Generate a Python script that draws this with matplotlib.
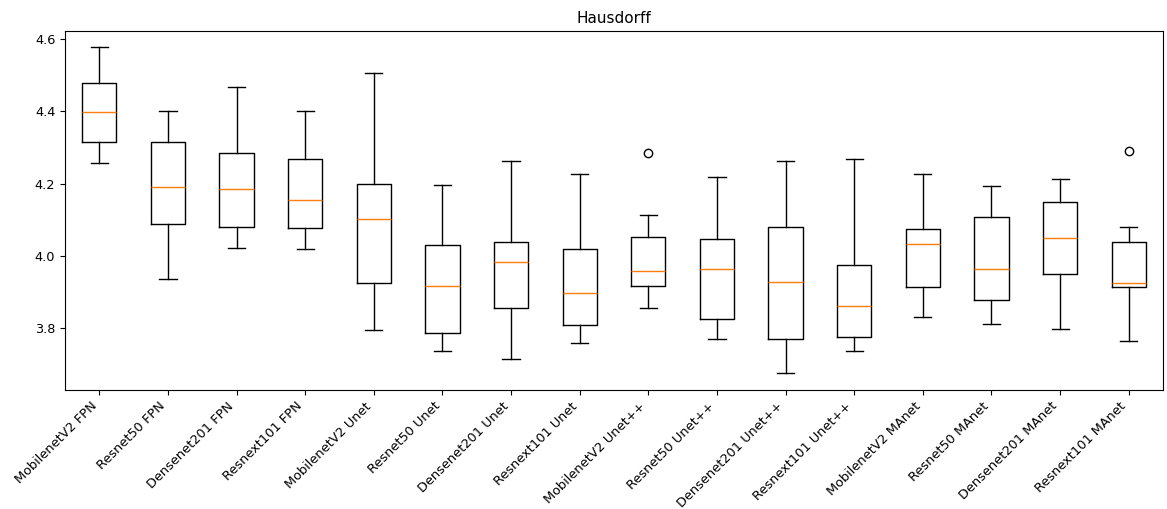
import matplotlib
matplotlib.use("Agg")
import matplotlib.pyplot as plt

models = ["MobilenetV2 FPN", "Resnet50 FPN", "Densenet201 FPN", "Resnext101 FPN",
          "MobilenetV2 Unet", "Resnet50 Unet", "Densenet201 Unet", "Resnext101 Unet",
          "MobilenetV2 Unet++", "Resnet50 Unet++", "Densenet201 Unet++", "Resnext101 Unet++",
          "MobilenetV2 MAnet", "Resnet50 MAnet", "Densenet201 MAnet", "Resnext101 MAnet"]

# five-number summaries of the Hausdorff distance per model
whislo = [4.256, 3.936, 4.022, 4.019, 3.793, 3.737, 3.715, 3.757,
          3.855, 3.770, 3.676, 3.737, 3.830, 3.811, 3.796, 3.763]
q1 = [4.315, 4.089, 4.081, 4.077, 3.924, 3.785, 3.855, 3.807,
      3.916, 3.826, 3.770, 3.775, 3.914, 3.877, 3.949, 3.913]
med = [4.399, 4.191, 4.186, 4.154, 4.102, 3.916, 3.982, 3.898,
       3.957, 3.964, 3.928, 3.862, 4.034, 3.964, 4.049, 3.924]
q3 = [4.480, 4.315, 4.285, 4.268, 4.198, 4.029, 4.037, 4.019,
      4.052, 4.047, 4.081, 3.975, 4.073, 4.107, 4.150, 4.037]
whishi = [4.578, 4.402, 4.468, 4.402, 4.507, 4.197, 4.264, 4.227,
          4.114, 4.219, 4.263, 4.267, 4.227, 4.194, 4.213, 4.080]
fliers = [[], [], [], [], [], [], [], [],
          [4.286], [], [], [], [], [], [], [4.290]]

stats = []
for i in range(len(models)):
    stats.append({"label": models[i], "whislo": whislo[i], "q1": q1[i], "med": med[i],
                  "q3": q3[i], "whishi": whishi[i], "fliers": fliers[i]})

fig = plt.figure(figsize=(11.67, 5.09), dpi=100)
ax = fig.add_axes([0.0557, 0.2338, 0.9409, 0.7052])
ax.bxp(stats)
ax.set_ylim(3.628, 4.623)
ax.set_yticks([3.8, 4.0, 4.2, 4.4, 4.6])
ax.set_xticklabels(models, rotation=45, ha="right", fontsize=9.3)
ax.tick_params(axis="y", labelsize=9.3)
ax.set_title("Hausdorff", fontsize=11)
fig.savefig("out.png")
